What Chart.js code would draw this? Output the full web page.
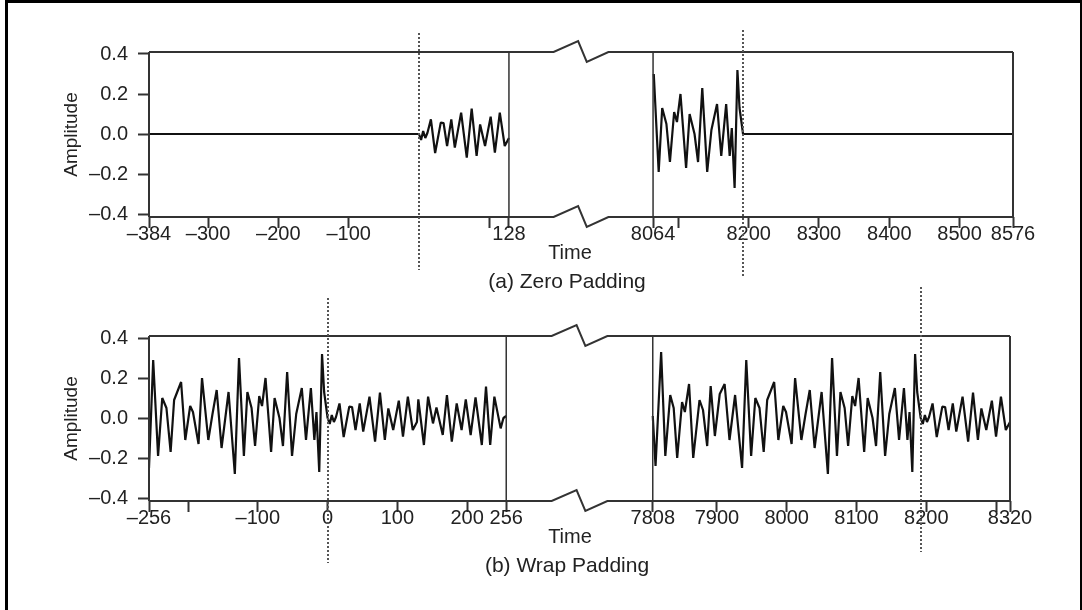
<!DOCTYPE html>
<html>
<head>
<meta charset="utf-8">
<script src="https://cdn.jsdelivr.net/npm/chart.js@4.4.1/dist/chart.umd.min.js"></script>
<style>
  html, body { margin: 0; padding: 0; background: #fff; }
  #page { position: relative; width: 1082px; height: 610px; overflow: hidden; background: #fff; }
  #page canvas { position: absolute; left: 0; top: 0; }
  #border { position: absolute; left: 5px; top: 0; width: 1072px; height: 612px; border: 3px solid #000; }
</style>
</head>
<body>
<div id="page">
  <canvas id="zeroPad" width="1082" height="610"></canvas>
  <canvas id="wrapPad" width="1082" height="610"></canvas>
  <div id="border"></div>
</div>
<script>
// ─── DATA ─────────────────────────────────────────────────────────────────
// start of the signal, t = 0 .. 256
const headTimes  = [0, 3, 6, 9, 12, 17, 23, 31, 35, 40, 46, 51, 60, 68, 75, 82, 87, 94,
                    102, 108, 115, 122, 128, 130, 138, 144, 151, 156, 165, 171, 178, 185,
                    192, 198, 205, 212, 221, 227, 233, 239, 248, 252, 256];
const headValues = [0.0, -0.03, 0.015, -0.02, 0.005, 0.073, -0.095, 0.057, 0.055, -0.06,
                    0.073, -0.068, 0.107, -0.118, 0.127, -0.11, 0.048, -0.06, 0.087, -0.093,
                    0.107, -0.06, -0.02, 0.093, -0.135, 0.107, -0.027, 0.053, -0.085, 0.115,
                    -0.118, 0.073, -0.06, 0.093, -0.085, 0.103, -0.135, 0.157, -0.135, 0.107,
                    -0.052, 0.0, 0.01];

// end of the signal, t = 7808 .. 8192
const tailTimes  = [7808, 7812, 7820, 7826, 7833, 7838, 7843, 7850, 7854, 7860, 7866, 7875,
                    7880, 7886, 7891, 7897, 7904, 7911, 7918, 7926, 7936, 7942, 7949, 7955,
                    7961, 7967, 7972, 7982, 7988, 7995, 7999, 8007, 8012, 8021, 8027, 8033,
                    8040, 8050, 8059, 8065, 8072, 8077, 8083, 8088, 8094, 8098, 8103, 8111,
                    8116, 8123, 8128, 8134, 8141, 8147, 8155, 8161, 8168, 8173, 8176, 8180,
                    8184, 8187];
const tailValues = [0.01, -0.24, 0.33, -0.19, 0.115, 0.05, -0.2, 0.08, 0.03, 0.17, -0.2, 0.09,
                    0.04, -0.14, 0.16, -0.09, 0.12, 0.17, -0.11, 0.115, -0.25, 0.29, -0.19, 0.10,
                    0.05, -0.17, 0.09, 0.18, -0.11, 0.06, 0.03, -0.13, 0.20, -0.11, 0.02, 0.14,
                    -0.15, 0.13, -0.28, 0.30, -0.19, 0.13, 0.05, -0.14, 0.11, 0.06, 0.20, -0.17,
                    0.10, 0.0, -0.14, 0.23, -0.19, 0.02, 0.15, -0.11, 0.15, -0.11, 0.03, -0.27,
                    0.32, 0.13];

const signalLength = 8192;
const zeroPadLeft  = [-384, 0];      // padded zeros before the signal
const zeroPadRight = [8192, 8576];   // padded zeros after the signal

const yTicks = [-0.4, -0.2, 0, 0.2, 0.4];

const zeroTicks      = [-384, -300, -200, -100, 100, 128, 8064, 8100, 8200, 8300, 8400, 8500, 8576];
const zeroTickLabels = ["\u2013384", "\u2013300", "\u2013200", "\u2013100", "", "128",
                        "8064", "", "8200", "8300", "8400", "8500", "8576"];
const wrapTicks      = [-256, -200, -100, 0, 100, 200, 256, 7808, 7900, 8000, 8100, 8200, 8300, 8320];
const wrapTickLabels = ["\u2013256", "", "\u2013100", "0", "100", "200", "256",
                        "7808", "7900", "8000", "8100", "8200", "", "8320"];

// ─── PANEL SETUP ──────────────────────────────────────────────────────────
const FONT = '"Liberation Sans", Arial, Helvetica, sans-serif';
const INK = "#222";
const FRAME = "#333";

Chart.defaults.font.family = FONT;
Chart.defaults.color = INK;

const zeroPanel = {
  left: [-384, 128], right: [8064, 8576], gap: 205,
  area: { top: 52, bottom: 217, left: 149, right: 1013 },
  ticks: zeroTicks, labels: zeroTickLabels,
  caption: "(a) Zero Padding",
  marks: [ { t: 0, up: 19, down: 53 }, { t: 8192, up: 22, down: 59 } ]
};
const wrapPanel = {
  left: [-256, 256], right: [7808, 8320], gap: 210,
  area: { top: 336, bottom: 501, left: 149, right: 1010 },
  ticks: wrapTicks, labels: wrapTickLabels,
  caption: "(b) Wrap Padding",
  marks: [ { t: 0, up: 38, down: 62 }, { t: 8192, up: 49, down: 51 } ]
};

// broken axis: right block is shifted so it sits just after the gap
function toAxis(t, p) {
  return t <= p.left[1] ? t : t - p.right[0] + p.left[1] + p.gap;
}

function pts(times, values, p, shift = 0, keep = () => true) {
  const out = [];
  times.forEach((t, i) => {
    const tt = t + shift;
    if (keep(tt)) out.push({ x: toAxis(tt, p), y: values[i] });
  });
  return out;
}

function lineSet(data) {
  return {
    data,
    borderColor: "#111",
    borderWidth: 2.2,
    borderJoinStyle: "bevel",
    pointRadius: 0,
    tension: 0,
    fill: false
  };
}

// ─── FRAME, BREAK MARKS, DOTTED MARKERS, LABELS ───────────────────────────
function decorPlugin(p) {
  return {
    id: "decor",
    afterDraw(chart) {
      const { ctx, chartArea: a, scales: { x } } = chart;
      const gs = x.getPixelForValue(p.left[1]);
      const ge = x.getPixelForValue(toAxis(p.right[0], p));
      const w = ge - gs;
      ctx.save();
      ctx.strokeStyle = FRAME;
      ctx.lineJoin = "miter";

      // top and bottom edges, with the zigzag break in the gap
      ctx.lineWidth = 2;
      [a.top, a.bottom].forEach(y => {
        ctx.beginPath();
        ctx.moveTo(a.left, y);
        ctx.lineTo(gs + 0.31 * w, y);
        ctx.lineTo(gs + 0.48 * w, y - 11);
        ctx.lineTo(gs + 0.54 * w, y + 10);
        ctx.lineTo(gs + 0.69 * w, y);
        ctx.lineTo(a.right, y);
        ctx.stroke();
      });

      // outer sides
      ctx.beginPath();
      ctx.moveTo(a.left, a.top); ctx.lineTo(a.left, a.bottom);
      ctx.moveTo(a.right, a.top); ctx.lineTo(a.right, a.bottom);
      ctx.stroke();

      // break sides
      ctx.lineWidth = 1.5;
      ctx.beginPath();
      ctx.moveTo(gs, a.top); ctx.lineTo(gs, a.bottom);
      ctx.moveTo(ge, a.top); ctx.lineTo(ge, a.bottom);
      ctx.stroke();

      // dotted markers at the signal ends
      ctx.strokeStyle = "#555";
      ctx.lineWidth = 2;
      ctx.setLineDash([2, 2]);
      p.marks.forEach(m => {
        const px = Math.round(x.getPixelForValue(toAxis(m.t, p)));
        ctx.beginPath();
        ctx.moveTo(px, a.top - m.up);
        ctx.lineTo(px, a.bottom + m.down);
        ctx.stroke();
      });
      ctx.setLineDash([]);

      // axis name and caption
      ctx.fillStyle = INK;
      ctx.textAlign = "center";
      ctx.textBaseline = "middle";
      ctx.font = "20px " + FONT;
      ctx.fillText("Time", 570, a.bottom + 36);
      ctx.font = "21px " + FONT;
      ctx.fillText(p.caption, 567, a.bottom + 65);
      ctx.restore();
    }
  };
}

function makePanel(canvasId, p, datasets) {
  const xMin = p.left[0];
  const xMax = toAxis(p.right[1], p);
  return new Chart(document.getElementById(canvasId), {
    type: "line",
    data: { datasets },
    options: {
      responsive: false,
      animation: false,
      devicePixelRatio: 1,
      parsing: false,
      events: [],
      layout: {
        padding: { left: 58, right: 1082 - p.area.right, top: p.area.top, bottom: 610 - p.area.bottom - 40 }
      },
      plugins: { legend: { display: false }, tooltip: { enabled: false } },
      scales: {
        x: {
          type: "linear",
          min: xMin,
          max: xMax,
          border: { display: false },
          grid: { display: true, drawOnChartArea: false, drawTicks: true, tickLength: 11, tickWidth: 2, tickColor: FRAME },
          afterBuildTicks: s => { s.ticks = p.ticks.map(t => ({ value: toAxis(t, p) })); },
          afterFit: s => { s.height = 40; },
          ticks: {
            autoSkip: false,
            maxRotation: 0,
            minRotation: 0,
            padding: -4,
            color: INK,
            font: { size: 20, lineHeight: 1 },
            callback: (v, i) => p.labels[i]
          }
        },
        y: {
          min: -0.415,
          max: 0.41,
          border: { display: false },
          grid: { display: true, drawOnChartArea: false, drawTicks: true, tickLength: 11, tickWidth: 2, tickColor: FRAME },
          afterBuildTicks: s => { s.ticks = yTicks.map(v => ({ value: v })); },
          afterFit: s => { s.width = p.area.left - 58; },
          ticks: {
            padding: 10,
            color: INK,
            font: { size: 20, lineHeight: 1 },
            callback: v => (v < 0 ? "\u2013" : "") + Math.abs(v).toFixed(1)
          },
          title: {
            display: true,
            text: "Amplitude",
            color: INK,
            font: { size: 19, lineHeight: 1 },
            padding: { top: 4, bottom: 0 }
          }
        }
      }
    },
    plugins: [decorPlugin(p)]
  });
}

// ─── (a) ZERO PADDING ─────────────────────────────────────────────────────
const zeroLeft = pts(zeroPadLeft, [0, 0], zeroPanel)
  .concat(pts(headTimes, headValues, zeroPanel, 0, t => t <= zeroPanel.left[1]));
const zeroRight = pts(tailTimes, tailValues, zeroPanel, 0, t => t >= zeroPanel.right[0])
  .concat(pts(zeroPadRight, [0, 0], zeroPanel));

makePanel("zeroPad", zeroPanel, [lineSet(zeroLeft), lineSet(zeroRight)]);

// ─── (b) WRAP PADDING ─────────────────────────────────────────────────────
const wrapLeft = pts(tailTimes, tailValues, wrapPanel, -signalLength, t => t >= wrapPanel.left[0])
  .concat(pts(headTimes, headValues, wrapPanel));
const wrapRight = pts(tailTimes, tailValues, wrapPanel)
  .concat(pts(headTimes, headValues, wrapPanel, signalLength, t => t <= wrapPanel.right[1]));

makePanel("wrapPad", wrapPanel, [lineSet(wrapLeft), lineSet(wrapRight)]);
</script>
</body>
</html>
